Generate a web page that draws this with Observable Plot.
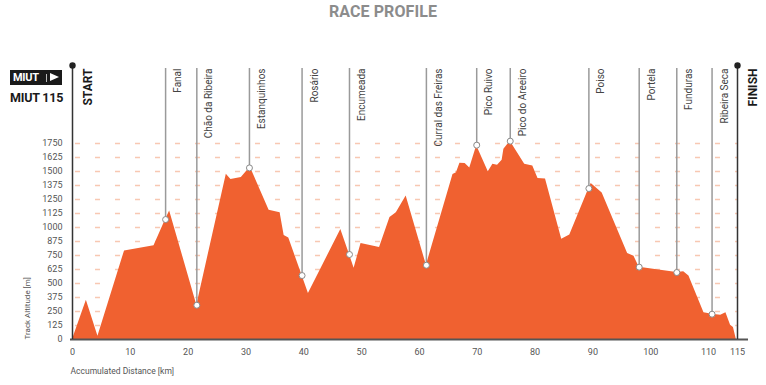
<!DOCTYPE html>
<html>
<head>
<meta charset="utf-8">
<script src="https://cdn.jsdelivr.net/npm/d3@7"></script>
<script src="https://cdn.jsdelivr.net/npm/@observablehq/plot@0.6"></script>
<style>
  body { margin: 0; background: #fff; }
  #wrap { position: relative; width: 766px; height: 385px; overflow: hidden; font-family: Roboto, sans-serif; }
  #title { position: absolute; top: 2px; left: 0; width: 766px; text-align: center; font-size: 16px; font-weight: bold; color: #8c8c8c; letter-spacing: 0.1px; }
  #logo { position: absolute; left: 10px; top: 70px; width: 52px; height: 15px; background: #1a1a1a; color: #fff; font-weight: bold; font-size: 11px; line-height: 15px; }
  #logo span.t { position: absolute; left: 3px; top: 0; letter-spacing: -0.3px; }
  #logo span.bar { position: absolute; left: 36px; top: 4px; width: 1px; height: 8px; background: #bbb; }
  #logo span.tri { position: absolute; left: 40px; top: 3px; width: 0; height: 0; border-top: 4.5px solid transparent; border-bottom: 4.5px solid transparent; border-left: 9px solid #fff; }
  #race { position: absolute; left: 10px; top: 90px; font-weight: bold; font-size: 12.5px; color: #1a1a1a; letter-spacing: -0.2px; }
  #chart { position: absolute; left: 0; top: 0; }
</style>
</head>
<body>
<div id="wrap">
  <div id="chart"></div>
  <div id="title">RACE PROFILE</div>
  <div id="logo"><span class="t">MIUT</span><span class="bar"></span><span class="tri"></span></div>
  <div id="race">MIUT 115</div>
</div>
<script>
// Profile: accumulated distance (km) and altitude (m)
const profileKm = [0, 2.4, 4.4, 9.0, 14.1, 16.1, 16.8, 21.5, 26.6, 27.4, 29.2, 30.6, 30.7, 34.0, 35.9, 36.6, 37.4, 39.7, 40.8, 46.4, 47.9, 48.7, 49.9, 53.1, 54.9, 56.0, 57.7, 61.2, 65.8, 66.4, 67.0, 67.9, 68.7, 69.9, 71.9, 72.7, 73.5, 74.3, 74.6, 75.7, 78.2, 79.6, 80.5, 81.8, 84.6, 86.0, 89.3, 89.7, 91.6, 96.0, 97.1, 98.0, 104.5, 105.7, 106.6, 109.2, 110.6, 112.1, 113.0, 113.8, 114.3, 114.8];
const profileAlt = [0, 351, 30, 791, 836, 1071, 1148, 306, 1476, 1429, 1447, 1532, 1545, 1155, 1131, 929, 907, 571, 411, 982, 759, 637, 857, 821, 1089, 1131, 1282, 663, 1473, 1488, 1574, 1572, 1532, 1730, 1497, 1565, 1556, 1601, 1699, 1771, 1565, 1550, 1438, 1434, 896, 934, 1348, 1393, 1309, 768, 744, 646, 598, 604, 568, 238, 226, 217, 238, 128, 107, 0];

// Checkpoints
const cpNames = ["Fanal", "Chão da Ribeira", "Estanquinhos", "Rosário", "Encumeada", "Curral das Freiras", "Pico Ruivo", "Pico do Areeiro", "Poiso", "Portela", "Funduras", "Ribeira Seca"];
const cpKm = [16.1, 21.5, 30.6, 39.7, 47.9, 61.2, 69.9, 75.7, 89.3, 98.0, 104.5, 110.6];
const cpAlt = [1071, 306, 1532, 571, 759, 663, 1735, 1771, 1348, 646, 598, 226];

// Start / finish
const endNames = ["START", "FINISH"];
const endKm = [0, 115];

// Ticks
const xTicks = [0, 10, 20, 30, 40, 50, 60, 70, 80, 90, 100, 110, 115];
const yTicks = [0, 125, 250, 375, 500, 625, 750, 875, 1000, 1125, 1250, 1375, 1500, 1625, 1750];

const profile = profileKm.map((k, i) => ({km: k, alt: profileAlt[i]}));
const cps = cpNames.map((n, i) => ({name: n, km: cpKm[i], alt: cpAlt[i]}));
const ends = endNames.map((n, i) => ({name: n, km: endKm[i]}));
const yTop = yTicks[yTicks.length - 1];
const font = "Roboto, sans-serif";

const chart = Plot.plot({
  width: 766,
  height: 385,
  marginTop: 143,
  marginBottom: 46,
  marginLeft: 72,
  marginRight: 29,
  style: {fontFamily: font, fontSize: "9px", color: "#555", background: "transparent"},
  x: {domain: [0, 115], ticks: xTicks, tickSize: 0, tickPadding: 9, label: null, tickFormat: d => String(d)},
  y: {domain: [0, yTop], ticks: yTicks, tickSize: 0, tickPadding: 10, label: null, tickFormat: d => String(d)},
  marks: [
    Plot.ruleY(yTicks.filter(d => d > 0), {y: d => d, stroke: "#f8c8b2", strokeWidth: 1.3, strokeDasharray: "5,15", strokeDashoffset: -3}),
    Plot.areaY(profile, {x: "km", y: "alt", fill: "#f06130"}),
    Plot.ruleY([0], {stroke: "#555", strokeWidth: 2, insetLeft: -2, insetRight: -11}),
    Plot.ruleX(cps, {x: "km", y1: () => yTop, y2: "alt", insetTop: -75, stroke: "#9a9a9a", strokeWidth: 1.5}),
    Plot.dot(cps, {x: "km", y: "alt", r: 3, fill: "#fff", stroke: "#8a8a8a", strokeWidth: 1}),
    Plot.text(cps, {x: "km", text: "name", frameAnchor: "top", dy: -75, dx: 8.5, rotate: -90, textAnchor: "end", fontSize: 10, fill: "#444"}),
    Plot.ruleX(ends, {x: "km", y1: () => yTop, y2: () => 0, insetTop: -78, stroke: "#333", strokeWidth: 1.5}),
    Plot.dot(ends, {x: "km", frameAnchor: "top", dy: -78, r: 3.2, fill: "#222"}),
    Plot.text(ends, {x: "km", text: "name", frameAnchor: "top", dy: -75, dx: 11, rotate: -90, textAnchor: "end", fontSize: 12, fontWeight: "bold", fill: "#1a1a1a"}),
    Plot.text(["Accumulated Distance [km]"], {text: d => d, frameAnchor: "bottom-left", dy: 34, dx: -2, textAnchor: "start", fontSize: 8.5, fill: "#555"}),
    Plot.text(["Track Altitude [m]"], {text: d => d, frameAnchor: "bottom-left", dx: -43, dy: 0, rotate: -90, textAnchor: "start", fontSize: 8, fill: "#555"})
  ]
});
document.getElementById("chart").appendChild(chart);
</script>
</body>
</html>
